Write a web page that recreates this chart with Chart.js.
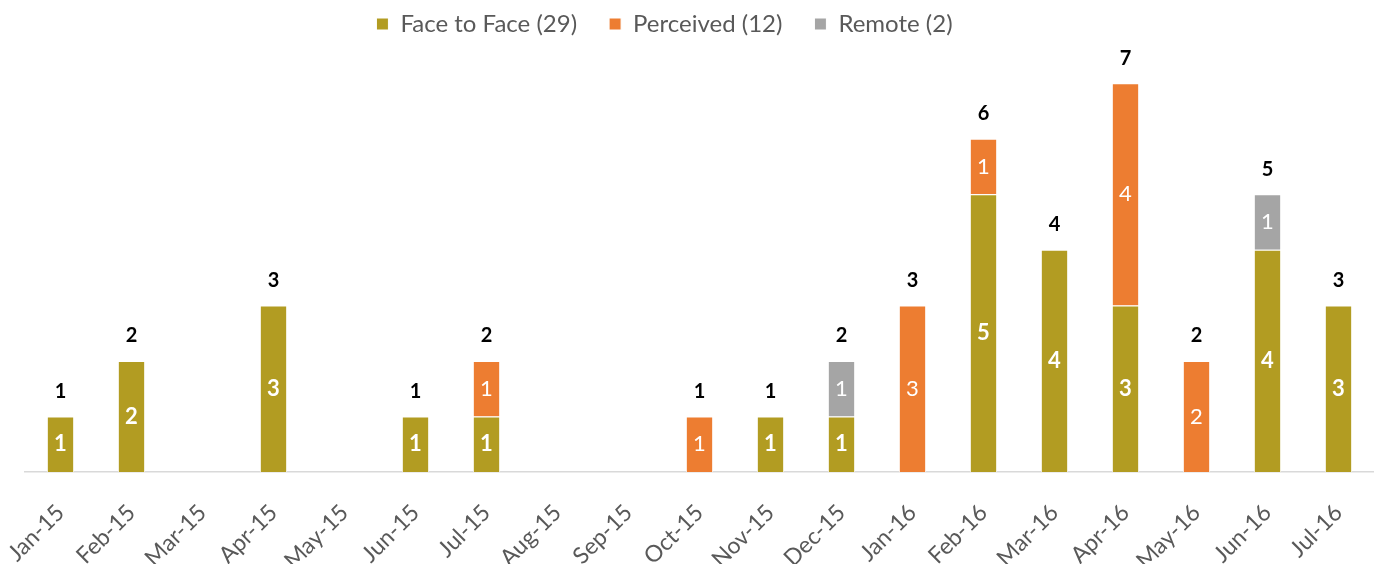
<!DOCTYPE html>
<html>
<head>
<meta charset="utf-8">
<script src="https://cdn.jsdelivr.net/npm/chart.js@4/dist/chart.umd.min.js"></script>
<style>
html,body{margin:0;padding:0;background:#fff;}
#wrap{width:1374px;height:564px;position:relative;}
</style>
</head>
<body>
<div id="wrap"><canvas id="c"></canvas></div>
<script>
const categories = ["Jan-15","Feb-15","Mar-15","Apr-15","May-15","Jun-15","Jul-15","Aug-15","Sep-15","Oct-15","Nov-15","Dec-15","Jan-16","Feb-16","Mar-16","Apr-16","May-16","Jun-16","Jul-16"];
const faceToFace = [1,2,null,3,null,1,1,null,null,null,1,1,null,5,4,3,null,4,3];
const perceived  = [null,null,null,null,null,null,1,null,null,1,null,null,3,1,null,4,2,null,null];
const remote     = [null,null,null,null,null,null,null,null,null,null,null,1,null,null,null,null,null,1,null];
const seriesNames = ["Face to Face (29)","Perceived (12)","Remote (2)"];
const seriesColors = ["#B29C22","#ED7D31","#A5A5A5"];

const FONT = "Lato, 'Open Sans', sans-serif";

const labelPlugin = {
  id: 'labels',
  afterLayout(chart) {
    if (chart.legend) { chart.legend.left -= 35; chart.legend.right -= 35; }
  },
  afterDatasetsDraw(chart) {
    const ctx = chart.ctx;
    ctx.save();
    ctx.textAlign = 'center';
    ctx.textBaseline = 'middle';
    chart.data.datasets.forEach((ds, di) => {
      const meta = chart.getDatasetMeta(di);
      meta.data.forEach((bar, i) => {
        const v = ds.data[i];
        if (v === null || v === 0) return;
        ctx.fillStyle = '#ffffff';
        ctx.font = (di === 0 ? 'bold ' : '') + '22px ' + FONT;
        ctx.fillText(String(v), bar.x, (bar.y + bar.base) / 2);
      });
    });
    const yScale = chart.scales.y;
    const xScale = chart.scales.x;
    categories.forEach((c, i) => {
      const total = (faceToFace[i]||0) + (perceived[i]||0) + (remote[i]||0);
      if (!total) return;
      ctx.fillStyle = '#000000';
      ctx.font = 'bold 20px ' + FONT;
      ctx.fillText(String(total), xScale.getPixelForValue(i), yScale.getPixelForValue(total) - 25);
    });
    ctx.restore();
  }
};

new Chart(document.getElementById('c'), {
  type: 'bar',
  data: {
    labels: categories,
    datasets: [
      { label: seriesNames[0], data: faceToFace, backgroundColor: seriesColors[0] },
      { label: seriesNames[1], data: perceived, backgroundColor: seriesColors[1] },
      { label: seriesNames[2], data: remote, backgroundColor: seriesColors[2] }
    ].map(d => Object.assign(d, { borderColor: '#ffffff', borderWidth: 1, barPercentage: 0.385, categoryPercentage: 1 }))
  },
  options: {
    responsive: true,
    maintainAspectRatio: false,
    animation: false,
    layout: { padding: { left: 25, right: 0, top: -20, bottom: 0 } },
    plugins: {
      legend: {
        position: 'top',
        labels: {
          boxWidth: 12, boxHeight: 12, padding: 32,
          color: '#595959',
          font: { family: FONT, size: 24 }
        }
      },
      tooltip: { enabled: false }
    },
    scales: {
      x: {
        stacked: true,
        grid: { display: false },
        border: { color: '#D9D9D9', width: 1.5 },
        ticks: { color: '#595959', font: { family: FONT, size: 23 }, minRotation: 45, maxRotation: 45, padding: 19, autoSkip: false },
        afterFit(scale) { scale.height = 92; scale.paddingLeft = 0; scale.paddingRight = 0; }
      },
      y: {
        stacked: true,
        display: false,
        min: 0,
        max: 7.67
      }
    }
  },
  plugins: [labelPlugin]
});
</script>
</body>
</html>
